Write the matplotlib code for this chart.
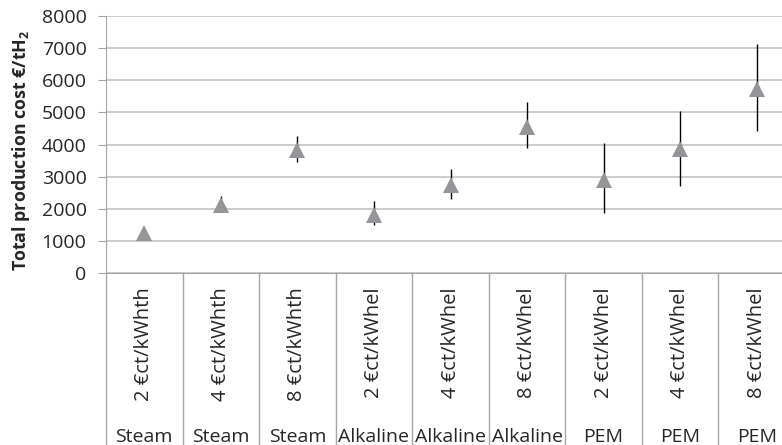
import matplotlib
matplotlib.use("Agg")
import matplotlib.pyplot as plt

plt.rcParams["font.family"] = ["Open Sans", "DejaVu Sans"]
plt.rcParams["mathtext.fontset"] = "custom"
plt.rcParams["mathtext.rm"] = "Open Sans"
plt.rcParams["mathtext.bf"] = "Open Sans:bold"

# Categories and values
price_labels = ["2 €ct/kWhth", "4 €ct/kWhth", "8 €ct/kWhth",
                "2 €ct/kWhel", "4 €ct/kWhel", "8 €ct/kWhel",
                "2 €ct/kWhel", "4 €ct/kWhel", "8 €ct/kWhel"]
tech_labels = ["Steam", "Steam", "Steam",
               "Alkaline", "Alkaline", "Alkaline",
               "PEM", "PEM", "PEM"]
cost_mid = [1230, 2110, 3830, 1820, 2740, 4560, 2910, 3860, 5740]
cost_low = [1230, 1950, 3440, 1490, 2300, 3900, 1880, 2720, 4430]
cost_high = [1230, 2400, 4270, 2240, 3250, 5320, 4040, 5050, 7120]

GRID = "#c4c4c4"
AXIS = "#a6a6a6"
TEXT = "#262626"
MARKER = "#939598"

fig = plt.figure(figsize=(7.82, 4.45), dpi=100)
ax = fig.add_axes([106 / 782, 1 - 273 / 445, 689 / 782, 257 / 445])

xs = list(range(len(cost_mid)))
yerr = [[m - lo for m, lo in zip(cost_mid, cost_low)],
        [hi - m for m, hi in zip(cost_mid, cost_high)]]

ax.errorbar(xs, cost_mid, yerr=yerr, fmt="none", ecolor="black",
            elinewidth=1.0, capsize=0, zorder=3)
ax.plot(xs, cost_mid, linestyle="none", marker="^", markersize=12,
        color=MARKER, markeredgewidth=0, zorder=4)

ax.set_xlim(-0.5, len(xs) - 0.5)
ax.set_ylim(0, 8000)
ax.set_yticks(range(0, 8001, 1000))
ax.set_xticks([])
ax.grid(axis="y", color=GRID, linewidth=1.2)
ax.set_axisbelow(True)

for side in ["top", "right"]:
    ax.spines[side].set_visible(False)
ax.spines["left"].set_color(AXIS)
ax.spines["bottom"].set_color(AXIS)

ax.tick_params(axis="y", length=6, color=AXIS, pad=8,
               labelsize=14, labelcolor=TEXT)

# Category separators and labels below the plot
trans = ax.get_xaxis_transform()
for i in range(len(xs) + 1):
    ax.plot([i - 0.5, i - 0.5], [0, -0.75], transform=trans,
            color=AXIS, linewidth=1, clip_on=False)

for i, (p, t) in enumerate(zip(price_labels, tech_labels)):
    ax.text(i, -0.055, p, transform=trans, rotation=90, ha="center",
            va="top", fontsize=14.5, color=TEXT)
    ax.text(i, -0.64, t, transform=trans, ha="center", va="center",
            fontsize=14, color=TEXT)

fig.text(21 / 782, 1 - 150 / 445, r"Total production cost €/tH$_\mathbf{2}$",
         rotation=90, ha="center", va="center", fontsize=12.8,
         fontweight="bold", color=TEXT)

fig.savefig("out.png", dpi=100)
